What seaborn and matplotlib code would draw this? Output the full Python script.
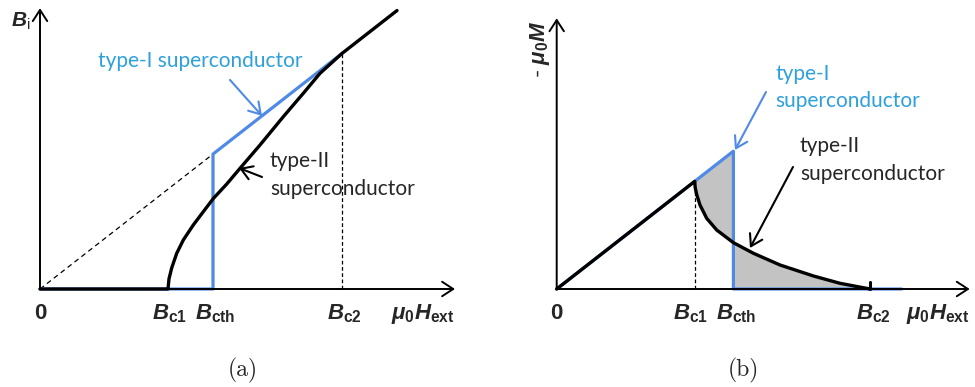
import numpy as np
import matplotlib
matplotlib.use("Agg")
import matplotlib.pyplot as plt
import seaborn as sns

# ---- panel (a): internal flux density B_i versus applied field ----
bc1_a, bcth_a, bc2_a = 1.28, 1.73, 3.02
type1_h_a = [0.0, bcth_a, bcth_a, bc2_a]
type1_b_a = [0.0, 0.0, bcth_a, bc2_a]
type2_h_a = [0.0, 1.28, 1.29, 1.317, 1.367, 1.433, 1.533, 1.633, 1.733, 1.867,
             2.0, 2.2, 2.433, 2.633, 2.8, 3.02, 3.57]
type2_b_a = [0.0, 0.0, 0.13, 0.27, 0.457, 0.628, 0.821, 0.991, 1.16, 1.345,
             1.547, 1.846, 2.209, 2.509, 2.765, 3.02, 3.57]
ticks_a = [0.0, bc1_a, bcth_a, bc2_a]

# ---- panel (b): magnetisation -mu0 M versus applied field ----
bc1_b, bcth_b, bc2_b = 1.38, 1.767, 3.133
type1_h_b = [0.0, bcth_b, bcth_b, 3.45]
type1_m_b = [0.0, bcth_b, 0.0, 0.0]
type2_h_b = [0.0, 1.38, 1.385, 1.40, 1.433, 1.50, 1.60, 1.767, 1.967, 2.233,
             2.567, 2.833, 3.133]
type2_m_b = [0.0, 1.38, 1.30, 1.21, 1.077, 0.906, 0.756, 0.594, 0.458, 0.308,
             0.167, 0.073, 0.0]
ticks_b = [0.0, bc1_b, bcth_b, bc2_b]

tick_labels = ["0", r"$B_{\mathbf{c1}}$", r"$B_{\mathbf{cth}}$", r"$B_{\mathbf{c2}}$"]

sns.set_theme(style="white")
plt.rcParams["mathtext.fontset"] = "custom"
plt.rcParams["mathtext.it"] = "Liberation Sans:italic:bold"
plt.rcParams["mathtext.bf"] = "Liberation Sans:bold"
plt.rcParams["mathtext.rm"] = "Liberation Sans"
plt.rcParams["font.family"] = ["Lato", "DejaVu Sans"]

BLUE = "#4f8ae6"
TXT_BLUE = "#2ea0dc"
GREY = "#c3c3c3"
FS_NOTE = 15

W, H = 975, 387
fig = plt.figure(figsize=(W / 100, H / 100), dpi=100)
ylim = (-(H - 289) / 78, 289 / 78)
ax_a = fig.add_axes([0, 0, 487 / W, 1])
ax_a.set_xlim(-0.40, (487 - 40) / 100)
ax_b = fig.add_axes([487 / W, 0, 488 / W, 1])
ax_b.set_xlim(-(556.7 - 487) / 100, (975 - 556.7) / 100)
for ax in (ax_a, ax_b):
    ax.set_ylim(*ylim)
    ax.axis("off")


def axes_arrows(ax, xend, yend):
    kw = dict(arrowstyle="->,head_length=0.4,head_width=0.26",
              color="black", lw=1.4, mutation_scale=20, shrinkA=0, shrinkB=0)
    ax.annotate("", xy=(xend, 0), xytext=(0, 0), arrowprops=kw)
    ax.annotate("", xy=(0, yend), xytext=(0, 0), arrowprops=kw)


def tick_texts(ax, xs, xlabel_x, nudges=(0, 0, 0, 0)):
    for x, lab, dx in zip(xs, tick_labels, nudges):
        ax.text(x + dx, -0.385, lab, ha="center", va="baseline", fontsize=16,
                fontweight="bold", family="Liberation Sans")
    ax.text(xlabel_x, -0.385, r"$\mu_{\mathbf{0}}H_{\mathbf{ext}}$",
            ha="right", va="baseline", fontsize=16)


def pointer(ax, tip, tail, color):
    ax.annotate("", xy=tip, xytext=tail,
                arrowprops=dict(arrowstyle="->,head_length=0.4,head_width=0.25",
                                color=color, lw=1.5, mutation_scale=20,
                                shrinkA=0, shrinkB=0))


# ---------------- panel (a) ----------------
axes_arrows(ax_a, 4.15, 3.60)
ax_a.plot([0, bcth_a], [0, bcth_a], color="black", lw=0.9, ls=(0, (4, 3)))
ax_a.plot([bc2_a, bc2_a], [0, bc2_a], color="black", lw=0.9, ls=(0, (3, 2)))
sns.lineplot(x=type1_h_a, y=type1_b_a, ax=ax_a, color=BLUE, lw=2.3,
             sort=False, estimator=None)
sns.lineplot(x=type2_h_a, y=type2_b_a, ax=ax_a, color="black", lw=2.4,
             sort=False, estimator=None)
tick_texts(ax_a, ticks_a, 4.15, nudges=(0, 0.01, 0.02, 0.02))
ax_a.text(-0.29, 3.36, r"$B_{\mathrm{i}}$", ha="left", va="baseline", fontsize=15)

ax_a.text(0.58, 2.846, "type-I superconductor", color=TXT_BLUE,
          fontsize=FS_NOTE, ha="left", va="baseline")
pointer(ax_a, (2.22, 2.22), (1.90, 2.68), BLUE)
ax_a.text(2.30, 1.564, "type-II", fontsize=FS_NOTE, ha="left", va="baseline")
ax_a.text(2.30, 1.205, "superconductor", fontsize=FS_NOTE, ha="left", va="baseline")
pointer(ax_a, (1.99, 1.551), (2.22, 1.436), "black")
ax_a.text(2.03, -1.05, "(a)", fontsize=17, family="cmr10",
          ha="center", va="center")

# ---------------- panel (b) ----------------
axes_arrows(ax_b, 4.13, 3.47)
h2 = np.array(type2_h_b)
m2 = np.array(type2_m_b)
lo = (h2 >= bc1_b) & (h2 <= bcth_b)
hi = h2 >= bcth_b
ax_b.fill_between(h2[lo], m2[lo], h2[lo], color=GREY, lw=0)
ax_b.fill_between(h2[hi], m2[hi], 0, color=GREY, lw=0)
ax_b.plot([bc1_b, bc1_b], [0, bc1_b], color="black", lw=0.9, ls=(0, (3, 2)))
sns.lineplot(x=type1_h_b, y=type1_m_b, ax=ax_b, color=BLUE, lw=2.3,
             sort=False, estimator=None)
sns.lineplot(x=type2_h_b, y=type2_m_b, ax=ax_b, color="black", lw=2.4,
             sort=False, estimator=None)
ax_b.plot([bc2_b, bc2_b], [0, 0.09], color="black", lw=2.2)
tick_texts(ax_b, ticks_b, 4.13, nudges=(0, -0.04, 0.03, 0.03))
ax_b.text(-0.165, 3.08, r"- $\mu_{\mathbf{0}}M$", rotation=90, ha="center",
          va="center", fontsize=16)

ax_b.text(2.183, 2.68, "type-I", color=TXT_BLUE, fontsize=FS_NOTE,
          ha="left", va="baseline")
ax_b.text(2.183, 2.337, "superconductor", color=TXT_BLUE, fontsize=FS_NOTE,
          ha="left", va="baseline")
pointer(ax_b, (1.783, 1.782), (2.093, 2.526), BLUE)
ax_b.text(2.433, 1.76, "type-II", fontsize=FS_NOTE, ha="left", va="baseline")
ax_b.text(2.433, 1.397, "superconductor", fontsize=FS_NOTE, ha="left", va="baseline")
pointer(ax_b, (1.933, 0.526), (2.363, 1.564), "black")
ax_b.text(1.863, -1.05, "(b)", fontsize=17, family="cmr10",
          ha="center", va="center")

fig.savefig("out.png", dpi=100)
